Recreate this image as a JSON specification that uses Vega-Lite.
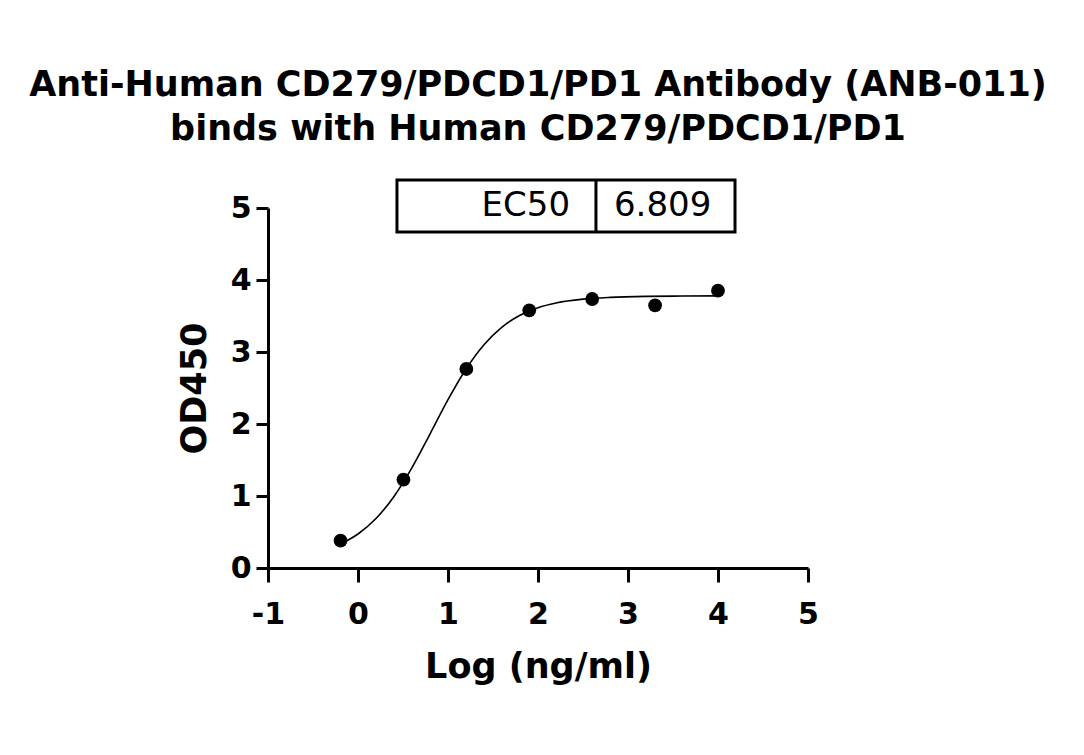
{
  "$schema": "https://vega.github.io/schema/vega-lite/v6.json",
  "width": 540,
  "height": 360,
  "autosize": {"type": "none"},
  "padding": {"left": 268, "top": 208, "right": 276, "bottom": 187},
  "background": "white",
  "title": {
    "text": ["Anti-Human CD279/PDCD1/PD1 Antibody (ANB-011)", "binds with Human CD279/PDCD1/PD1"],
    "font": "DejaVu Sans",
    "fontSize": 35,
    "fontWeight": "bold",
    "color": "black",
    "lineHeight": 44,
    "anchor": "middle",
    "offset": 31
  },
  "config": {
    "view": {"stroke": null},
    "axis": {
      "domainColor": "black",
      "domainWidth": 3,
      "tickColor": "black",
      "tickWidth": 3,
      "tickSize": 14,
      "grid": false,
      "labelFont": "DejaVu Sans",
      "labelFontWeight": "bold",
      "labelFontSize": 30,
      "labelColor": "black",
      "labelFlush": false,
      "labelExpr": "'' + datum.value",
      "titleFont": "DejaVu Sans",
      "titleFontWeight": "bold",
      "titleFontSize": 35,
      "titleColor": "black"
    }
  },
  "datasets": {
    "points": [
      {"logc": -0.194, "od": 0.38},
      {"logc": 0.505, "od": 1.227},
      {"logc": 1.204, "od": 2.764},
      {"logc": 1.903, "od": 3.579},
      {"logc": 2.602, "od": 3.736},
      {"logc": 3.301, "od": 3.648},
      {"logc": 4.0, "od": 3.852}
    ],
    "curve": [
      {"logc": -0.194, "od": 0.333},
      {"logc": 0.0, "od": 0.472},
      {"logc": 0.2, "od": 0.687},
      {"logc": 0.4, "od": 0.994},
      {"logc": 0.6, "od": 1.394},
      {"logc": 0.8, "od": 1.861},
      {"logc": 1.0, "od": 2.337},
      {"logc": 1.2, "od": 2.764},
      {"logc": 1.4, "od": 3.102},
      {"logc": 1.6, "od": 3.346},
      {"logc": 1.8, "od": 3.511},
      {"logc": 2.0, "od": 3.616},
      {"logc": 2.2, "od": 3.681},
      {"logc": 2.5, "od": 3.734},
      {"logc": 2.8, "od": 3.759},
      {"logc": 3.2, "od": 3.773},
      {"logc": 3.6, "od": 3.777},
      {"logc": 4.0, "od": 3.779}
    ],
    "box": [
      {"x1": 0.433, "x2": 4.189, "y1": 4.667, "y2": 5.389, "xd": 2.644}
    ],
    "ec50label": [
      {"logc": 2.356, "od": 5.03, "label": "EC50"}
    ],
    "ec50value": [
      {"logc": 2.844, "od": 5.03, "label": "6.809"}
    ]
  },
  "layer": [
    {
      "data": {"name": "curve"},
      "mark": {"type": "line", "color": "black", "strokeWidth": 1.6, "interpolate": "monotone"},
      "encoding": {
        "x": {"field": "logc", "type": "quantitative", "scale": {"domain": [-1, 5], "nice": false}, "axis": {"values": [-1, 0, 1, 2, 3, 4, 5], "title": "Log (ng/ml)", "labelPadding": 17, "titlePadding": 20}},
        "y": {"field": "od", "type": "quantitative", "scale": {"domain": [0, 5], "nice": false}, "axis": {"values": [0, 1, 2, 3, 4, 5], "title": "OD450", "tickSize": 12, "labelPadding": 5, "titlePadding": 18}}
      }
    },
    {
      "data": {"name": "points"},
      "mark": {"type": "point", "filled": true, "color": "black", "opacity": 1, "size": 190},
      "encoding": {
        "x": {"field": "logc", "type": "quantitative"},
        "y": {"field": "od", "type": "quantitative"}
      }
    },
    {
      "data": {"name": "box"},
      "mark": {"type": "rect", "fill": "white", "fillOpacity": 0, "stroke": "black", "strokeWidth": 3},
      "encoding": {
        "x": {"field": "x1", "type": "quantitative"},
        "x2": {"field": "x2"},
        "y": {"field": "y1", "type": "quantitative"},
        "y2": {"field": "y2"}
      }
    },
    {
      "data": {"name": "box"},
      "mark": {"type": "rule", "color": "black", "strokeWidth": 3},
      "encoding": {
        "x": {"field": "xd", "type": "quantitative"},
        "y": {"field": "y1", "type": "quantitative"},
        "y2": {"field": "y2"}
      }
    },
    {
      "data": {"name": "ec50label"},
      "mark": {"type": "text", "font": "DejaVu Sans", "fontSize": 34, "color": "black", "baseline": "middle", "align": "right"},
      "encoding": {
        "x": {"field": "logc", "type": "quantitative"},
        "y": {"field": "od", "type": "quantitative"},
        "text": {"field": "label"}
      }
    },
    {
      "data": {"name": "ec50value"},
      "mark": {"type": "text", "font": "DejaVu Sans", "fontSize": 34, "color": "black", "baseline": "middle", "align": "left"},
      "encoding": {
        "x": {"field": "logc", "type": "quantitative"},
        "y": {"field": "od", "type": "quantitative"},
        "text": {"field": "label"}
      }
    }
  ]
}
